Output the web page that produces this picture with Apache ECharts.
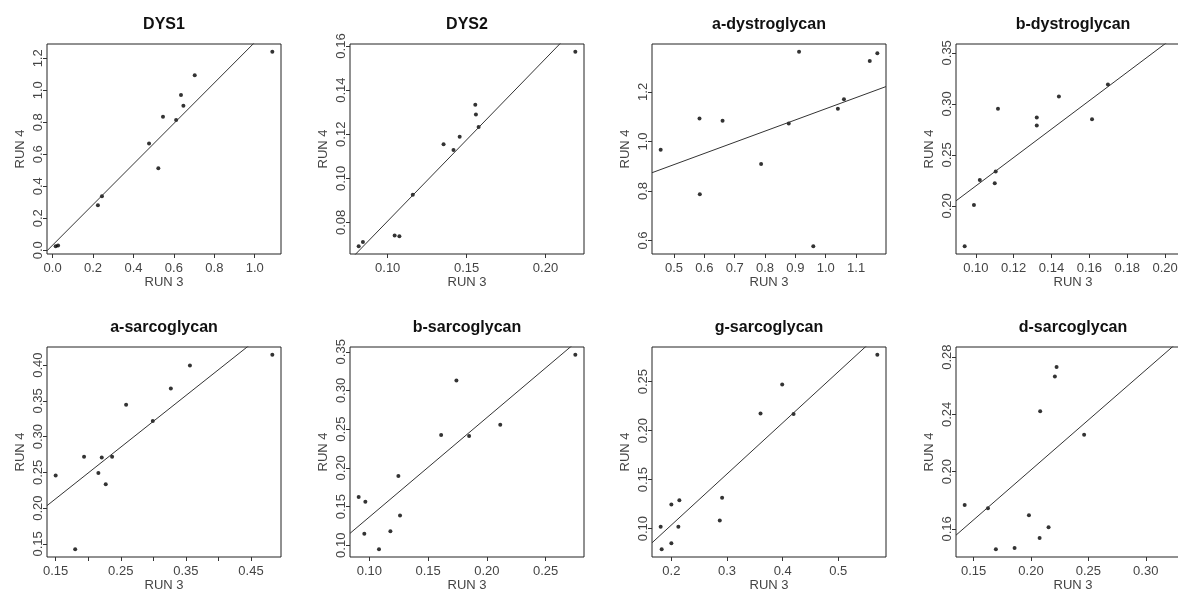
<!DOCTYPE html>
<html>
<head>
<meta charset="utf-8">
<title>RUN 3 vs RUN 4</title>
<script src="https://cdn.jsdelivr.net/npm/echarts@6.0.0/dist/echarts.min.js"></script>
<style>
  html, body { margin: 0; padding: 0; background: #fff; }
  #chart { width: 1178px; height: 590px; }
</style>
</head>
<body>
<div id="chart"></div>
<script>
// panel titles
const titles = ['DYS1', 'DYS2', 'a-dystroglycan', 'b-dystroglycan',
                'a-sarcoglycan', 'b-sarcoglycan', 'g-sarcoglycan', 'd-sarcoglycan'];

// RUN 3 (x) / RUN 4 (y) values per protein
const dys1Run3 = [0.015, 0.027, 0.224, 0.244, 0.477, 0.523, 0.546, 0.611, 0.635, 0.647, 0.703, 1.087];
const dys1Run4 = [0.025, 0.030, 0.282, 0.338, 0.667, 0.512, 0.835, 0.815, 0.970, 0.904, 1.094, 1.241];

const dys2Run3 = [0.0816, 0.0843, 0.1044, 0.1074, 0.1159, 0.1354, 0.1417, 0.1456, 0.1555, 0.1559, 0.1576, 0.2189];
const dys2Run4 = [0.0692, 0.0711, 0.0741, 0.0737, 0.0926, 0.1155, 0.1128, 0.1188, 0.1334, 0.1290, 0.1233, 0.1574];

const aDgRun3 = [0.456, 0.584, 0.585, 0.660, 0.787, 0.878, 0.912, 0.959, 1.040, 1.060, 1.145, 1.170];
const aDgRun4 = [0.966, 1.093, 0.787, 1.084, 0.909, 1.072, 1.362, 0.577, 1.132, 1.170, 1.325, 1.356];

const bDgRun3 = [0.0941, 0.0990, 0.1021, 0.1100, 0.1105, 0.1117, 0.1322, 0.1322, 0.1439, 0.1614, 0.1698, 0.2086];
const bDgRun4 = [0.1605, 0.2010, 0.2255, 0.2222, 0.2337, 0.2951, 0.2866, 0.2788, 0.3072, 0.2850, 0.3190, 0.3510];

const aSgRun3 = [0.150, 0.180, 0.1936, 0.2156, 0.2208, 0.2269, 0.2367, 0.2582, 0.2992, 0.3269, 0.3562, 0.4828];
const aSgRun4 = [0.2458, 0.1426, 0.2718, 0.2490, 0.2708, 0.2333, 0.2718, 0.3444, 0.3218, 0.3671, 0.3995, 0.4144];

const bSgRun3 = [0.0909, 0.0966, 0.0957, 0.1082, 0.1179, 0.1247, 0.1261, 0.1611, 0.1741, 0.1849, 0.2114, 0.2753];
const bSgRun4 = [0.1625, 0.1561, 0.1150, 0.0949, 0.1180, 0.1895, 0.1385, 0.2426, 0.3128, 0.2413, 0.2558, 0.3461];

const gSgRun3 = [0.1808, 0.1826, 0.2000, 0.2000, 0.2126, 0.2144, 0.2870, 0.2912, 0.3602, 0.3992, 0.4196, 0.5701];
const gSgRun4 = [0.1020, 0.0790, 0.1247, 0.0851, 0.1020, 0.1290, 0.1084, 0.1314, 0.2176, 0.2470, 0.2169, 0.2774];

const dSgRun3 = [0.1422, 0.1625, 0.1694, 0.1857, 0.1982, 0.2075, 0.2153, 0.2080, 0.2208, 0.2223, 0.2463, 0.3310];
const dSgRun4 = [0.1767, 0.1744, 0.1458, 0.1467, 0.1695, 0.1537, 0.1612, 0.2421, 0.2665, 0.2730, 0.2258, 0.2816];

const run3 = [dys1Run3, dys2Run3, aDgRun3, bDgRun3, aSgRun3, bSgRun3, gSgRun3, dSgRun3];
const run4 = [dys1Run4, dys2Run4, aDgRun4, bDgRun4, aSgRun4, bSgRun4, gSgRun4, dSgRun4];

// fitted line: RUN4 = intercept + slope * RUN3
const fitIntercept = [0.032, 0.0069, 0.681, 0.0803, 0.1049, 0.0082, -0.0006, 0.0617];
const fitSlope     = [1.268, 0.737, 0.451, 1.3926, 0.7215, 1.2837, 0.5214, 0.6975];

// tick values and labels
const xTicks = [
  [0, 0.2, 0.4, 0.6, 0.8, 1.0],
  [0.10, 0.15, 0.20],
  [0.5, 0.6, 0.7, 0.8, 0.9, 1.0, 1.1],
  [0.10, 0.12, 0.14, 0.16, 0.18, 0.20],
  [0.15, 0.20, 0.25, 0.30, 0.35, 0.40, 0.45],
  [0.10, 0.15, 0.20, 0.25],
  [0.2, 0.3, 0.4, 0.5],
  [0.15, 0.20, 0.25, 0.30]
];
const xLabels = [
  [0, 0.2, 0.4, 0.6, 0.8, 1.0],
  [0.10, 0.15, 0.20],
  [0.5, 0.6, 0.7, 0.8, 0.9, 1.0, 1.1],
  [0.10, 0.12, 0.14, 0.16, 0.18, 0.20],
  [0.15, 0.25, 0.35, 0.45],
  [0.10, 0.15, 0.20, 0.25],
  [0.2, 0.3, 0.4, 0.5],
  [0.15, 0.20, 0.25, 0.30]
];
const yTicks = [
  [0, 0.2, 0.4, 0.6, 0.8, 1.0, 1.2],
  [0.08, 0.10, 0.12, 0.14, 0.16],
  [0.6, 0.8, 1.0, 1.2],
  [0.20, 0.25, 0.30, 0.35],
  [0.15, 0.20, 0.25, 0.30, 0.35, 0.40],
  [0.10, 0.15, 0.20, 0.25, 0.30, 0.35],
  [0.10, 0.15, 0.20, 0.25],
  [0.16, 0.20, 0.24, 0.28]
];
const xDecimals = [1, 2, 1, 2, 2, 2, 1, 2];
const yDecimals = [1, 2, 1, 2, 2, 2, 2, 2];

const chart = echarts.init(document.getElementById('chart'));

const colLeft = [47, 350, 652, 956];
const rowTop = [44, 347];
const boxW = 234, boxH = 210;
const font = 'Liberation Sans, Arial, sans-serif';

// R style axis range: data range padded by 4% each side
function padRange(vals) {
  const lo = Math.min(...vals), hi = Math.max(...vals);
  const p = (hi - lo) * 0.04;
  return [lo - p, hi + p];
}

const grids = [], xAxes = [], yAxes = [], series = [], titleList = [];

titles.forEach((name, i) => {
  const left = colLeft[i % 4];
  const top = rowTop[Math.floor(i / 4)];
  const xr = padRange(run3[i]);
  const yr = padRange(run4[i]);

  grids.push({
    left: left, top: top, width: boxW, height: boxH,
    outerBoundsMode: 'none', containLabel: false,
    show: true, borderColor: '#222', borderWidth: 1, backgroundColor: 'transparent'
  });

  titleList.push({
    text: name,
    left: left + boxW / 2,
    top: top - 27,
    textAlign: 'center',
    padding: 0,
    textStyle: { fontFamily: font, fontWeight: 'bold', fontSize: 16, color: '#111' }
  });

  xAxes.push({
    type: 'value', gridIndex: i, min: xr[0], max: xr[1],
    name: 'RUN 3', nameLocation: 'middle', nameGap: 20,
    nameTextStyle: { fontFamily: font, fontSize: 13, color: '#444' },
    axisLine: { show: false, onZero: false },
    axisTick: { show: true, inside: false, length: 4, customValues: xTicks[i],
                lineStyle: { color: '#333' } },
    axisLabel: { customValues: xLabels[i], margin: 8, fontFamily: font, fontSize: 13, color: '#444',
                 formatter: v => v.toFixed(xDecimals[i]) },
    splitLine: { show: false }
  });

  yAxes.push({
    type: 'value', gridIndex: i, min: yr[0], max: yr[1],
    name: 'RUN 4', nameLocation: 'middle', nameGap: 20,
    nameTextStyle: { fontFamily: font, fontSize: 13, color: '#444' },
    axisLine: { show: false, onZero: false },
    axisTick: { show: true, inside: false, length: 4, customValues: yTicks[i],
                lineStyle: { color: '#333' } },
    axisLabel: { customValues: yTicks[i], rotate: 90, margin: 2.5, fontFamily: font, fontSize: 13, color: '#444',
                 formatter: v => v.toFixed(yDecimals[i]) },
    splitLine: { show: false }
  });

  series.push({
    type: 'scatter', xAxisIndex: i, yAxisIndex: i,
    symbol: 'circle', symbolSize: 4,
    itemStyle: { color: '#000' },
    silent: true,
    data: run3[i].map((x, k) => [x, run4[i][k]])
  });

  series.push({
    type: 'line', xAxisIndex: i, yAxisIndex: i,
    symbol: 'none', clip: true, silent: true,
    lineStyle: { color: '#333', width: 1 },
    data: [
      [xr[0], fitIntercept[i] + fitSlope[i] * xr[0]],
      [xr[1], fitIntercept[i] + fitSlope[i] * xr[1]]
    ]
  });
});

chart.setOption({
  backgroundColor: '#fff',
  animation: false,
  title: titleList,
  grid: grids,
  xAxis: xAxes,
  yAxis: yAxes,
  series: series
});
</script>
</body>
</html>
